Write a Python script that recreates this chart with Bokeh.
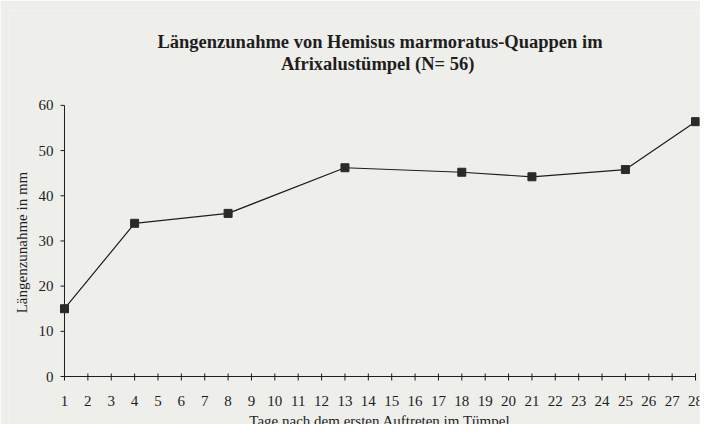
import numpy as np
from bokeh.plotting import figure
from bokeh.models import Range1d, Label, ColumnDataSource
from bokeh.core.properties import value
from bokeh.embed import file_html
from bokeh.resources import INLINE

# ---- data ----
days = [1, 4, 8, 13, 18, 21, 25, 28]
growth_mm = [15.0, 33.9, 36.1, 46.2, 45.2, 44.2, 45.8, 56.4]
x_ticks = [1, 2, 3, 4, 5, 6, 7, 8, 9, 10, 11, 12, 13, 14, 15, 16, 17, 18, 19, 20,
           21, 22, 23, 24, 25, 26, 27, 28]
x_tick_labels = [str(t) for t in x_ticks]
y_ticks = [0, 10, 20, 30, 40, 50, 60]
y_tick_labels = ["0", "10", "20", "30", "40", "50", "60"]
title_lines = ["Längenzunahme von Hemisus marmoratus-Quappen im",
               "Afrixalustümpel  (N= 56)"]
x_label = "Tage nach dem ersten Auftreten im Tümpel"
y_label = "Längenzunahme in mm"

BG = "#eeeeeb"
INK = "#1e1e1e"
SERIF = "Liberation Serif"
PX_Y = 4.519          # screen pixels per mm on the y scale

# the frame fills the canvas so that every text sits inside it
p = figure(width=700, height=424, output_backend="svg", toolbar_location=None,
           x_range=Range1d(-1.396, 28.17), y_range=Range1d(-48 / PX_Y, 81.0),
           min_border_left=8, min_border_right=1, min_border_top=10,
           min_border_bottom=0)
p.background_fill_color = BG
p.border_fill_color = BG
p.outline_line_color = None
p.grid.visible = False
p.xaxis.visible = False
p.yaxis.visible = False

# ---- y axis on day 1 ----
p.segment(x0=[x_ticks[0]], y0=[y_ticks[0]], x1=[x_ticks[0]], y1=[y_ticks[-1]],
          line_color=INK, line_width=1)
p.ray(x=[x_ticks[0]] * len(y_ticks), y=y_ticks, length=4, angle=np.pi,
      length_units="screen", line_color=INK, line_width=1)
p.text(x=[x_ticks[0]] * len(y_ticks), y=y_ticks, text=y_tick_labels,
       x_offset=-11, text_align="right", text_baseline="middle",
       text_font=value(SERIF), text_font_size=value("15px"), text_color=INK)
p.add_layout(Label(x=-0.797, y=29.65, text=y_label, angle=np.pi / 2,
                   text_align="center", text_baseline="middle",
                   text_font=SERIF, text_font_size="15px", text_color=INK))

# ---- x axis at 0 mm ----
p.segment(x0=[x_ticks[0]], y0=[y_ticks[0]], x1=[x_ticks[-1]], y1=[y_ticks[0]],
          line_color=INK, line_width=1)
p.segment(x0=x_ticks, y0=[3 / PX_Y] * len(x_ticks),
          x1=x_ticks, y1=[-4 / PX_Y] * len(x_ticks),
          line_color=INK, line_width=1)
p.text(x=x_ticks, y=[-24.5 / PX_Y] * len(x_ticks), text=x_tick_labels,
       text_align="center", text_baseline="middle",
       text_font=value(SERIF), text_font_size=value("15px"), text_color=INK)
mid_x = (x_ticks[0] + x_ticks[-1]) / 2
p.add_layout(Label(x=mid_x, y=-44 / PX_Y, text=x_label,
                   text_align="center", text_baseline="alphabetic",
                   text_font=SERIF, text_font_size="15px", text_color=INK))

# ---- series ----
src = ColumnDataSource(dict(x=days, y=growth_mm))
p.line("x", "y", source=src, line_color=INK, line_width=1.2)
p.scatter("x", "y", source=src, marker="square", size=8,
          fill_color="#2a2a2a", line_color="#2a2a2a")

# ---- two-line bold title ----
for txt, ty in zip(title_lines, [73.98, 69.26]):
    p.add_layout(Label(x=mid_x, y=ty, text=txt, text_align="center",
                       text_baseline="alphabetic", text_font=SERIF,
                       text_font_style="bold", text_font_size="18.5px",
                       text_color=INK))

open("out.html", "w").write(file_html(p, INLINE))
